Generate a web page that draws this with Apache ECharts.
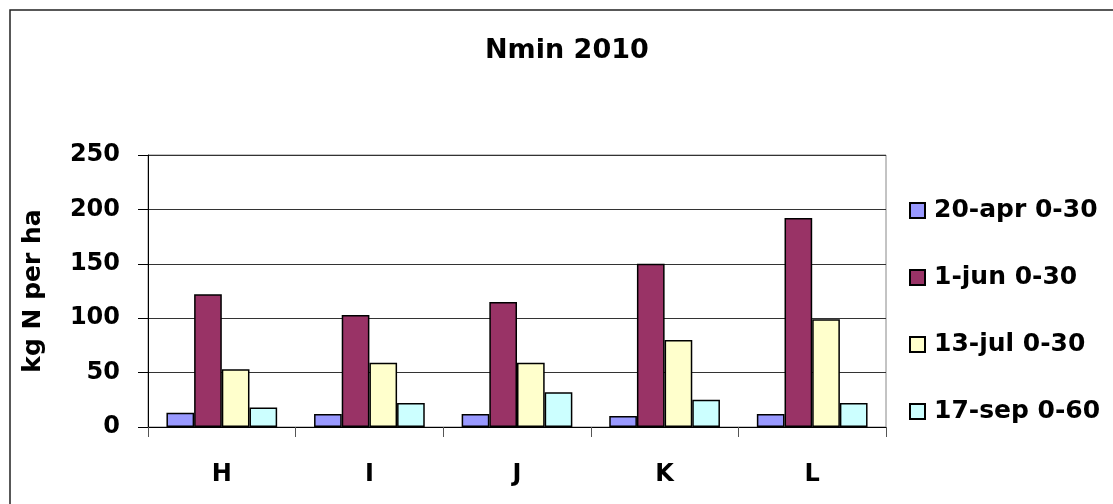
<!DOCTYPE html>
<html>
<head>
<meta charset="utf-8">
<script src="https://cdn.jsdelivr.net/npm/echarts@6/dist/echarts.min.js"></script>
<style>
  html, body { margin: 0; padding: 0; background: #fff; }
  #chart { width: 1113px; height: 504px; }
</style>
</head>
<body>
<div id="chart"></div>
<script>
// categorieen en meetwaarden (kg N per ha)
const categories = ['H', 'I', 'J', 'K', 'L'];
const apr20 = [13, 12, 12, 10, 12];
const jun1 = [122, 103, 115, 150, 192];
const jul13 = [53, 59, 59, 80, 99];
const sep17 = [18, 22, 32, 25, 22];
const seriesNames = ['20-apr 0-30', '1-jun 0-30', '13-jul 0-30', '17-sep 0-60'];
const seriesColors = ['#9999FF', '#993366', '#FFFFCC', '#CCFFFF'];

const font = 'DejaVu Sans';
const chart = echarts.init(document.getElementById('chart'));

const makeBar = (name, data, color) => ({
    name: name,
    type: 'bar',
    data: data,
    barGap: '0%',
    barCategoryGap: '25%',
    itemStyle: {color: color, borderColor: '#000', borderWidth: 1.5},
});

const option = {
    animation: false,
    backgroundColor: '#fff',
    title: {
        text: 'Nmin 2010',
        left: 485,
        top: 37,
        padding: 0,
        textStyle: {fontFamily: font, fontWeight: 'bold', fontSize: 27, color: '#000'},
    },
    graphic: [{
        type: 'rect',
        shape: {x: 10, y: 10, width: 1200, height: 600},
        style: {fill: 'none', stroke: '#222', lineWidth: 1.5},
        silent: true,
    }],
    legend: {
        orient: 'vertical',
        left: 904,
        top: 193,
        itemGap: 42,
        itemWidth: 15,
        itemHeight: 15,
        icon: 'rect',
        textStyle: {
            fontFamily: font, fontWeight: 'bold', fontSize: 25, color: '#000',
            padding: [0, 0, 0, 4],
        },
        data: seriesNames,
    },
    grid: {
        left: 148, right: 227, top: 155, bottom: 77,
        show: true, borderColor: '#888', borderWidth: 1,
    },
    xAxis: {
        type: 'category',
        data: categories,
        axisLine: {lineStyle: {color: '#000', width: 1}},
        axisTick: {show: true, alignWithLabel: false, length: 10, lineStyle: {color: '#555'}},
        axisLabel: {margin: 36, fontFamily: font, fontWeight: 'bold', fontSize: 24, color: '#000'},
    },
    yAxis: {
        type: 'value',
        min: 0,
        max: 250,
        interval: 50,
        name: 'kg N per ha',
        nameLocation: 'middle',
        nameGap: 102,
        nameTextStyle: {fontFamily: font, fontWeight: 'bold', fontSize: 25, color: '#000'},
        axisLine: {show: true, lineStyle: {color: '#000', width: 1}},
        axisTick: {show: true, length: 10, lineStyle: {color: '#000'}},
        axisLabel: {margin: 28, fontFamily: font, fontWeight: 'bold', fontSize: 24, color: '#000'},
        splitLine: {lineStyle: {color: '#333', width: 1}},
    },
    series: [
        makeBar(seriesNames[0], apr20, seriesColors[0]),
        makeBar(seriesNames[1], jun1, seriesColors[1]),
        makeBar(seriesNames[2], jul13, seriesColors[2]),
        makeBar(seriesNames[3], sep17, seriesColors[3]),
    ],
};

chart.setOption(option);
</script>
</body>
</html>
